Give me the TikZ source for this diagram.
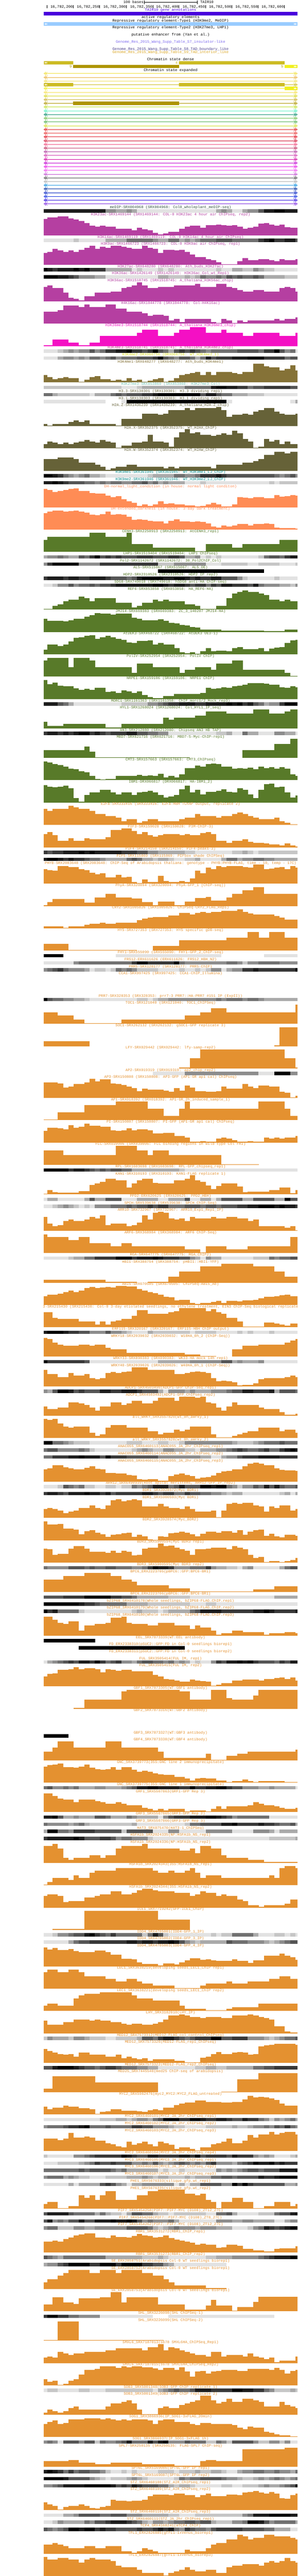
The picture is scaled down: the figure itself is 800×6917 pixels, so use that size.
\documentclass[tikz,border=0pt]{standalone}
\usepackage{fontspec}
\setmainfont{Liberation Mono}
\definecolor{g0}{HTML}{000000}\definecolor{g1}{HTML}{1C1C1C}\definecolor{g2}{HTML}{383838}
\definecolor{g3}{HTML}{555555}\definecolor{g4}{HTML}{707070}\definecolor{g5}{HTML}{8D8D8D}
\definecolor{g6}{HTML}{AAAAAA}\definecolor{g7}{HTML}{C6C6C6}\definecolor{g8}{HTML}{E2E2E2}
\definecolor{cmed}{HTML}{2F4F3F}\definecolor{hac}{HTML}{B53FA1}\definecolor{k36}{HTML}{F410C4}
\definecolor{k4a}{HTML}{C8388F}\definecolor{k4b}{HTML}{DDE020}\definecolor{k4c}{HTML}{857237}
\definecolor{k27}{HTML}{70C0B0}\definecolor{var}{HTML}{666238}\definecolor{k9}{HTML}{008B8B}
\definecolor{dhs}{HTML}{FF8C55}\definecolor{grn}{HTML}{587A29}\definecolor{org}{HTML}{E49130}
\definecolor{gene}{HTML}{4800DC}\definecolor{rep}{HTML}{99CCFF}\definecolor{st4}{HTML}{CCBB22}
\definecolor{st9}{HTML}{AE9500}\definecolor{st5}{HTML}{F0F020}
\definecolor{s7}{HTML}{7B68EE}\definecolor{s8}{HTML}{483D8B}\definecolor{s9}{HTML}{DAA520}
\tikzset{lab/.style={font=\fontsize{10}{10}\selectfont,inner sep=0pt,anchor=base}}
\newcount\curL
\def\cur{black}
\def\vs{.3333}
\newcommand\topt[3]{\node[lab,text=#3] at (458.5,#1+3.2) {#2};}
\newcommand\trkH[3]{%
 \node[lab,text=\cur] at (458.5,\the\curL+3.2) {#1};
 \gdef\prevx{231}%
 \foreach \tp/\xe in {#3}{%
  \pgfmathsetmacro\hh{round((#2-\tp)*\vs)}%
  \pgfmathsetmacro\xa{round(\prevx*0.5102)}%
  \pgfmathsetmacro\xb{round(\xe*0.5102)}%
  \ifdim\hh pt>0pt \fill[\cur] (\xa,\the\curL+56-\hh) rectangle (\xb+.3,\the\curL+56);\fi
  \xdef\prevx{\xe}%
 }%
 \global\advance\curL by 60\relax
}
\newcommand\trkE[1]{%
 \node[lab,text=\cur] at (458.5,\the\curL+3.2) {#1};
 \global\advance\curL by 60\relax
}
\newcommand\trkD[2]{%
 \node[lab,text=\cur] at (458.5,\the\curL+3.2) {#1};
 \gdef\prevx{231}%
 \foreach \gv/\xe in {#2}{%
  \pgfmathsetmacro\xa{round(\prevx*0.5102)}%
  \pgfmathsetmacro\xb{round(\xe*0.5102)}%
  \ifnum\gv<9 \fill[g\gv] (\xa,\the\curL+5) rectangle (\xb+.3,\the\curL+14);\fi
  \xdef\prevx{\xe}%
 }%
 \global\advance\curL by 19\relax
}
\newcommand\whL[1]{\fill[white] (120,#1) -- (123,#1-2.5) -- (123,#1+2.5) -- cycle (123.5,#1) -- (126.5,#1-2.5) -- (126.5,#1+2.5) -- cycle;}
\newcommand\whR[1]{\fill[white] (797,#1) -- (794,#1-2.5) -- (794,#1+2.5) -- cycle (793.5,#1) -- (790.5,#1-2.5) -- (790.5,#1+2.5) -- cycle;}
\catcode`\_=12
\begin{document}
\begin{tikzpicture}[x=1pt,y=-1pt]
\useasboundingbox (0,0) rectangle (800,6917);
\fill[white] (0,0) rectangle (800,6917);
% header
\node[lab,anchor=base east] at (386,9.6) {100 bases};
\node[lab,anchor=base west] at (538,9.6) {TAIR10};
\draw[black,line width=.8pt] (388,2)--(388,11) (388,6.5)--(530,6.5) (530,2)--(530,11);
\draw[black,line width=.8pt] (126,14)--(126,22);
\foreach \px/\lb in {197/200,268/250,339/300,411/350,481/400,552/450,623/500,694/550,764/600}{
 \draw[black,line width=.8pt] (\px,14)--(\px,22);
 \node[lab,anchor=base east] at (\px-1,21.2) {16,782,\lb};
}
\topt{27}{TAIR10 gene annotations}{gene}
\fill[gene] (118,32) rectangle (799,41);
\topt{46}{active regulatory elements}{black}
\topt{55}{Repressive regulatory element-Type1 (H3K9me2, MeDIP)}{black}
\fill[rep] (118,60) rectangle (799,69);
\whL{64.5}\whR{64.5}
\topt{74}{Repressive regulatory element-Type2 (H3K27me3, LHP1)}{black}
\topt{93}{putative enhancer from (Yan et al.)}{black}
\topt{112}{Genome_Res_2015_Wang_Supp_Table_S7_insulator-like}{s7}
\topt{131}{Genome_Res_2015_Wang_Supp_Table_S8_TAD_boundary_like}{s8}
\topt{140}{Genome_Res_2015_Wang_Supp_Table_S9_TAD_interior_like}{s9}
\topt{159}{Chromatin state dense}{black}
\fill[st4] (118,164) rectangle (197,173) (481,164) rectangle (765,173);
\whL{168.5}
\fill[st9] (197,174) rectangle (481,183);
\fill[st5] (765,174) rectangle (799,183);
\whR{178.5}
\node[lab,text=st4] at (474.5,171.7) {4};
\node[lab,text=st9] at (190,181.7) {9};
\node[lab,text=st9] at (758.5,181.7) {5};
\topt{188}{Chromatin state expanded}{black}
\foreach \rr/\cc in {0/F0E040,1/E8B040,2/F0E060,3/CCBB22,4/F0F020,5/F5E050,6/D8D820,7/C8B030,8/AE9500,9/C0E030,10/50F0C0,11/109070,12/70C050,13/50B050,14/D0DD20,15/E02020,16/E84040,17/E01020,18/D01030,19/F05080,20/C03060,21/B040A0,22/D040B0,23/D000A0,24/C000D0,25/E820E8,26/F050F0,27/C050D0,28/505050,29/B0B0B0,30/1090E0,31/0030A0,32/0020C0,33/1030E0,34/3010E0,35/8030E0}{
 \definecolor{rowc}{HTML}{\cc}
 \pgfmathsetmacro\yy{197.5+10*\rr}
 \draw[rowc,line width=1pt] (118,\yy)--(799,\yy);
 \draw[rowc,line width=.7pt] (123,\yy-4.3)--(118.4,\yy)--(123,\yy+4.3)--cycle (127.6,\yy-4.3)--(123,\yy)--(127.6,\yy+4.3);
 \draw[rowc,line width=.7pt] (794,\yy-4.3)--(798.6,\yy)--(794,\yy+4.3)--cycle (789.4,\yy-4.3)--(794,\yy)--(789.4,\yy+4.3);
}
\fill[st4] (118,223) rectangle (197,232) (481,223) rectangle (765,232);
\whL{227.5}
\fill[st5] (765,233) rectangle (799,242);
\whR{237.5}
\fill[st9] (197,273) rectangle (481,282);
% tracks
\curL=557
\def\cur{cmed}
\trkD{meDIP-SRX004968 (SRX004968: Col0_wholeplant_meDIP-seq)}{1/555,5/610,6/666,5/694,6/721,8/1139,6/1166,5/1194,6/1223,8/1278,6/1305,5/1362,3/1390,1/1445,0/1499,1/1566}
\def\cur{hac}
\trkH{H3K23ac-SRX1469144 (SRX1469144: COL-0 H3K23ac 4 hour air ChIPseq, rep2)}{276}{144/249,132/304,123/361,138/388,150/416,159/444,177/472,198/500,204/527,198/555,204/610,222/694,234/721,216/749,228/778,234/806,255/833,270/860,261/888,249/945,222/972,204/1000,198/1054,216/1084,195/1139,189/1166,195/1194,198/1223,195/1250,204/1278,222/1305,216/1333,204/1362,183/1390,177/1417,189/1445,198/1472,189/1499,210/1529,216/1566}
\trkD{H3K14ac-SRX1469119 (SRX1469119: COL-0 H3K14ac 4 hour air ChIPseq)}{8/388,7/416,8/555,6/666,4/806,5/833,6/888,4/945,6/972,5/1000,6/1027,5/1054,4/1139,3/1223,4/1362,2/1390,1/1417,0/1445,2/1499,1/1556,3/1566}
\trkH{H3K9ac-SRX1466723 (SRX1466723: COL-0 H3K9ac air ChIPseq, rep1)}{513}{417/249,408/276,384/304,399/333,408/361,399/388,408/416,393/444,375/472,360/500,384/527,366/555,375/582,360/639,366/666,375/694,384/749,360/778,375/806,384/833,417/860,393/917,399/945,393/972,408/1000,432/1027,450/1084,468/1111,474/1139,492/1166,507/1250,486/1278,459/1305,474/1362,468/1417,474/1445,486/1472,468/1499,474/1556,468/1566}
\trkD{H3K27ac-SRX648280 (SRX648280: Ath_buds_H3K27ac)}{0/249,1/276,2/304,1/388,0/416,1/444,0/472,2/555,6/694,8/721,7/749,8/833,7/860,8/888,7/917,8/1139,7/1166,8/1223,6/1278,7/1333,5/1362,6/1390,7/1445,8/1566}
\trkD{H3K36ac-SRX1426149 (SRX1426149: H3K36ac_Col_wt_Rep1)}{0/304,1/361,2/388,3/416,5/500,6/555,8/833,6/888,7/972,6/1000,7/1027,6/1054,4/1084,5/1139,4/1166,5/1194,3/1223,4/1250,3/1278,4/1333,3/1362,4/1390,6/1499,7/1566}
\trkH{H3K56ac-SRX1518745 (SRX1518745: A_thaliana_H3K56ac_chip)}{807}{693/249,678/276,702/333,738/361,777/388,789/416,801/444,765/500,738/582,729/639,702/666,693/694,678/721,654/749,678/778,702/833,693/917,678/1027,666/1054,693/1139,666/1194,693/1223,702/1250,717/1278,729/1333,717/1390,729/1472,702/1499,693/1529,702/1556,729/1566}
\trkH{H4K16ac-SRX1044778 (SRX1044778: Col-H4K16ac)}{987}{891/304,879/333,843/416,855/444,834/472,855/555,834/610,867/666,891/749,903/778,924/806,915/860,924/888,960/917,948/945,972/972,948/1111,972/1139,981/1166,948/1194,960/1223,981/1250,960/1278,972/1305,960/1445,948/1472,960/1499,948/1556,936/1566}
\def\cur{k36}
\trkH{H3K36me3-SRX1518744 (SRX1518744: A_thaliana_H3K36me3_chip)}{1167}{1161/276,1113/361,1140/416,1161/472,1140/527,1086/721,1062/749,1038/833,1086/917,1062/945,1038/1000,1014/1084,1062/1166,1038/1194,1062/1278,1086/1333,1062/1472,1086/1556,1062/1566}
\def\cur{k4a}
\trkD{H3K4me3-SRX1518741 (SRX1518741: A_thaliana_H3K4me3_chip)}{8/304,7/333,6/361,5/388,6/416,5/472,3/500,5/527,4/555,2/610,1/666,0/694,2/749,3/778,2/806,0/833,3/860,4/888,6/917,3/945,2/972,3/1000,2/1027,3/1054,4/1084,5/1111,4/1250,3/1362,4/1390,2/1445,0/1472,3/1499,5/1529,4/1556,8/1566}
\def\cur{k4b}
\trkD{H3K4me2-DRX066756 (DRX066756: WT_H3K4me2_1)}{8/304,6/333,5/388,6/416,5/444,6/472,4/527,5/555,4/582,3/610,5/639,4/721,3/806,2/833,0/860,3/888,4/917,5/945,3/1000,4/1027,6/1054,4/1084,1/1111,3/1139,2/1223,1/1305,0/1390,2/1499,4/1529,3/1566}
\def\cur{k4c}
\trkH{H3K4me1-SRX648277 (SRX648277: Ath_buds_H3K4me1)}{1461}{1401/249,1416/276,1434/304,1425/333,1416/361,1425/416,1455/444,1440/472,1416/500,1410/527,1434/582,1449/610,1440/639,1449/666,1425/694,1449/721,1440/749,1455/778,1449/806,1434/833,1425/860,1455/888,1449/917,1425/945,1401/972,1392/1000,1386/1027,1377/1054,1401/1084,1377/1111,1401/1139,1377/1223,1386/1250,1392/1278,1377/1333,1308/1390,1329/1417,1338/1472,1362/1499,1353/1529,1323/1556,1362/1566}
\def\cur{k27}
\trkD{H3K27me3-SRX853860 (SRX853860: H3K27me3_Col)}{7/639,8/721,7/749,6/972,4/1111,1/1139,0/1194,1/1250,2/1305,4/1333,3/1390,2/1529,3/1566}
\def\vs{.4209}
\def\cur{var}
\trkD{H3.3-SRX130301 (SRX130301: H3.3 dividing rep1)}{4/276,6/304,7/472,8/500,6/582,4/610,3/639,4/666,3/749,2/806,1/833,0/1054,3/1084,1/1139,3/1166,4/1223,6/1305,7/1390,8/1566}
\trkD{H3.1-SRX130303 (SRX130303: H3.1 dividing rep1)}{8/555,9/639,8/666,0/1194,8/1223,9/1529,8/1556,6/1566}
\trkH{H2A.Z-SRX1436239 (SRX1436239: A_thaliana_H2A.Z_chip)}{247}{233/249,242/276,233/361,221/388,211/416,221/444,211/472,233/610,242/639,200/749,169/833,176/860,169/888,145/972,133/1000,145/1027,133/1139,126/1166,145/1194,188/1223,176/1278,169/1305,176/1333,157/1362,145/1390,133/1445,157/1472,169/1499,176/1556,169/1566}
\trkH{H2A.X-SRX352375 (SRX352375: WT_H2AX_ChIP)}{390}{361/249,344/276,352/304,361/333,352/361,361/388,352/416,344/444,337/472,344/500,352/527,337/555,344/582,352/610,385/639,371/694,352/749,344/778,302/806,344/860,352/888,378/917,318/945,285/972,268/1000,295/1027,285/1054,302/1111,309/1139,302/1166,295/1194,302/1223,276/1250,295/1278,328/1305,344/1333,385/1362,378/1390,328/1417,344/1445,337/1472,361/1499,344/1529,361/1566}
\trkH{H2A.W-SRX352374 (SRX352374: WT_H2AW_ChIP)}{532}{459/304,447/388,459/416,480/500,494/527,506/555,527/582,518/610,506/666,494/721,506/860,518/888,506/917,518/945,506/1111,518/1139,494/1278,480/1333,471/1362,459/1390,432/1445,411/1499,421/1529,411/1566}
\def\cur{k9}
\trkD{H3K9me1-SRX361945 (SRX361945: WT_H3K9me1_LJ_ChIP)}{0/276,1/304,2/333,4/361,5/388,6/416,5/444,4/472,6/527,7/555,8/778,7/806,6/917,4/972,5/1027,4/1054,2/1139,1/1166,2/1194,3/1445,4/1472,5/1499,4/1529,3/1556,5/1566}
\trkD{H3K9me2-SRX361946 (SRX361946: WT_H3K9me2_LJ_ChIP)}{1/276,0/304,1/333,2/361,3/444,4/500,5/527,4/555,5/582,4/639,5/694,4/749,3/778,5/806,4/833,6/860,5/888,6/972,8/1054,7/1084,8/1417,7/1445,8/1472,7/1566}
\def\cur{dhs}
\trkH{DH-normal_light_condition (in house: normal light conditon)}{765}{649/249,654/276,668/304,663/333,656/361,649/388,644/416,660/444,663/472,675/500,677/555,691/582,701/610,694/639,715/666,727/694,736/721,755/749,748/778,755/806,748/833,727/860,743/888,741/917,748/972,753/1027,760/1054,755/1084,748/1111,736/1139,748/1166,760/1223,748/1250,701/1278,703/1305,708/1333,701/1390,708/1445,689/1472,696/1499,694/1529,689/1556,691/1566}
\trkH{DH-extended_darkness (in house: 3-day dark treatment)}{908}{803/249,794/276,786/333,794/361,791/388,786/416,794/444,798/472,813/500,817/527,808/555,794/582,813/610,808/639,813/666,824/694,846/721,841/749,846/778,851/806,855/860,867/888,851/917,841/945,855/1000,860/1027,855/1054,860/1084,867/1111,889/1139,893/1166,881/1194,889/1223,881/1250,872/1305,881/1333,872/1390,867/1417,872/1445,893/1472,898/1556,903/1566}
\def\cur{grn}
\trkH{CENH3-SRX2250913 (SRX2250913: AtCENH3_rep1)}{1050}{974/249,953/472,929/555,953/666,929/694,1000/806,1022/1027,1045/1084,1000/1223,1022/1278,1000/1472,974/1566}
\trkD{LHP1-SRX1519404 (SRX1519404: LHP1 ChIPseq)}{6/249,5/304,4/333,5/361,6/416,3/444,4/472,2/500,0/527,3/555,2/582,3/610,2/639,3/721,2/806,3/888,2/945,3/972,6/1027,5/1054,8/1084,7/1111,8/1139,7/1166,8/1362,7/1390,4/1417,3/1472,4/1499,2/1529,1/1566}
\trkD{Pol2-SRX1142672 (SRX1142672: 30_Pol2ChIP_Col)}{5/249,2/276,0/416,5/527,2/833,7/917,5/1084,8/1166,7/1305,8/1362,7/1472,8/1556,7/1566}
\trkD{AL5-SRX515067 (SRX515067: AL5_OE)}{9/833,0/1390,9/1566}
\trkD{HDP2-SRX2310526 (SRX2310526: HDP2 IP rep2)}{2/249,1/333,2/361,1/416,2/472,1/555,2/582,3/666,4/694,3/721,1/749,0/860,1/917,0/972,1/1000,2/1027,1/1054,2/1111,1/1166,3/1250,5/1278,7/1305,8/1445,7/1472,8/1566}
\trkD{SDG8-SRX749018 (SRX749018: hSDG8 anti-HA ChIP-seq)}{8/276,7/304,5/361,3/388,5/416,4/472,3/500,4/527,3/582,2/610,1/806,0/860,1/888,2/917,1/972,2/1000,3/1027,2/1084,4/1111,2/1139,3/1166,1/1223,2/1305,3/1333,1/1362,4/1390,5/1472,6/1529,7/1556,5/1566}
\trkH{REF6-SRX853858 (SRX853858: HA_REF6-HA)}{1418}{1414/276,1395/304,1385/333,1364/361,1354/416,1335/444,1345/472,1364/500,1345/610,1373/694,1404/721,1395/749,1373/806,1354/833,1364/860,1354/888,1364/972,1385/1027,1395/1054,1414/1139,1395/1194,1345/1223,1316/1250,1307/1278,1297/1305,1307/1362,1316/1390,1326/1417,1354/1472,1364/1499,1354/1529,1364/1566}
\trkH{JMJ14-SRX669383 (SRX669383: ZC_3_140207 JMJ14-HA)}{1561}{1475/249,1490/333,1494/361,1485/388,1475/444,1463/472,1454/500,1440/527,1444/582,1449/610,1444/694,1468/721,1475/749,1485/833,1480/860,1490/888,1501/917,1506/945,1516/972,1520/1000,1528/1027,1532/1054,1547/1166,1552/1390,1556/1499,1547/1566}
\trkH{AtDEK3-SRX468722 (SRX468722: AtDEK3 OE3-1)}{135}{107/249,74/304,83/333,71/361,52/388,31/416,26/444,17/472,14/500,38/527,26/555,17/582,26/610,38/639,43/666,59/694,62/721,50/778,45/806,74/833,62/860,74/888,71/917,95/945,121/972,128/1000,124/1027,131/1054,117/1084,95/1111,114/1139,112/1194,117/1223,95/1250,88/1278,102/1362,95/1390,114/1417,100/1445,93/1472,88/1499,62/1529,45/1556,43/1566}
\trkH{PolIV-SRX252954 (SRX252954: PolIV ChIP)}{278}{176/249,157/361,216/388,157/472,176/500,216/694,254/721,195/806,216/945,254/972,235/1027,216/1111,235/1139,195/1223,176/1278,235/1499,254/1529,273/1566}
\trkH{NRPE1-SRX159106 (SRX159106: NRPE1 ChIP)}{421}{299/249,325/276,316/304,335/333,337/388,352/416,363/444,354/472,361/500,349/555,375/582,371/610,380/639,366/666,371/694,382/721,373/749,394/778,408/806,413/833,416/860,402/917,390/945,387/972,390/1027,387/1054,380/1084,349/1111,354/1139,352/1166,344/1194,349/1223,340/1250,335/1278,330/1305,321/1362,318/1390,323/1417,330/1472,344/1499,349/1529,340/1556,344/1566}
\trkD{MORC1-SRX1161363 (SRX1161358: ChIP_morc1/2_Mock_rep3)}{1/304,3/333,4/361,6/388,8/639,7/778,5/833,4/860,3/888,2/945,1/1027,2/1084,1/1194,0/1223,1/1250,0/1278,2/1305,1/1333,3/1362,4/1390,6/1417,5/1472,2/1499,0/1566}
\trkH{HYL1-SRX1268024 (SRX1268024: Col_HYL1_IP_seq)}{608}{566/249,592/333,577/555,603/639,577/860,539/888,551/917,539/1027,526/1084,499/1194,513/1333,487/1417,513/1499,499/1529,487/1566}
\trkD{AN3-SRX212080 (SRX212080: Chipseq AN3 HB TAP)}{2/249,1/304,2/333,1/361,2/388,1/416,0/472,2/500,1/527,2/555,3/582,2/666,1/721,3/778,4/833,5/888,8/1139,7/1194,6/1223,8/1278,4/1305,6/1362,8/1445,5/1499,6/1556,8/1566}
\trkH{MBD7-SRX621716 (SRX621716: MBD7-5-Myc-ChIP-rep1)}{796}{746/444,722/472,755/500,791/1000,796/1278,746/1445,708/1529,675/1566}
\trkH{CMT3-SRX157663 (SRX157663: CMT3_ChIPseq)}{938}{817/249,827/276,834/304,843/333,851/361,865/388,870/416,881/444,889/472,912/500,929/527,934/555,931/582,929/610,912/639,910/694,912/721,905/749,912/778,908/806,910/833,898/860,919/888,910/917,919/945,900/972,862/1027,846/1054,851/1084,836/1111,832/1139,834/1166,851/1194,853/1223,865/1250,862/1278,865/1305,858/1333,867/1362,851/1390,862/1417,855/1445,865/1472,855/1499,865/1529,900/1556,910/1566}
\trkH{IBM1-DRX066817 (DRX066817: HA-IBM1_2)}{1081}{969/249,979/276,984/304,979/333,972/361,991/388,1052/416,1076/444,1031/472,1014/527,1000/582,1014/610,1029/639,1017/694,1031/721,1017/749,1012/778,1005/806,1014/833,1031/860,1050/888,1043/917,1031/945,998/972,972/1000,1017/1027,1000/1054,1029/1084,1012/1139,1005/1166,998/1194,1012/1223,1014/1250,991/1278,1000/1305,1029/1333,1052/1362,1000/1390,965/1417,960/1445,984/1472,979/1499,1014/1529,1050/1556,1036/1566}
\def\cur{org}
\trkH{E2Fa-SRX333416 (SRX333416: E2Fa-HBH TChAP output, replicate 2)}{1224}{1121/249,1133/276,1121/361,1102/388,1112/416,1121/472,1133/500,1155/555,1166/610,1176/639,1200/666,1188/721,1209/749,1200/778,1188/833,1200/945,1188/972,1176/1027,1155/1054,1166/1139,1176/1166,1166/1223,1155/1250,1145/1278,1155/1305,1166/1333,1176/1362,1188/1445,1176/1472,1200/1499,1209/1529,1219/1566}
\trkH{PIF3-SRX159028 (SRX159028: P3M-ChIP-3)}{1366}{1283/249,1269/276,1290/304,1323/361,1309/388,1323/444,1309/472,1316/555,1302/582,1257/639,1245/694,1264/721,1283/749,1269/778,1290/806,1297/833,1290/860,1283/945,1290/972,1283/1000,1290/1054,1276/1084,1269/1111,1283/1139,1323/1194,1338/1223,1323/1278,1316/1305,1330/1333,1338/1390,1342/1417,1349/1472,1354/1499,1342/1529,1354/1556,1361/1566}
\trkD{PIF4-SRX214150 (SRX214150: PIF4-peaks-3)}{2/249,3/276,2/333,1/416,0/444,1/472,0/500,1/639,2/721,3/778,5/833,6/972,7/1027,8/1223,7/1278,6/1305,7/1333,8/1362,7/1566}
\trkD{PIF5-SRX115869 (SRX115869: PIF5ox shade ChIPSeq)}{1/249,0/304,1/333,2/361,1/388,2/444,3/472,4/527,5/555,6/666,4/694,3/721,4/749,6/806,7/833,6/888,7/917,8/972,7/1027,6/1054,8/1166,6/1194,4/1250,6/1278,5/1333,4/1390,5/1445,6/1566}
\trkH{PHYB-SRX2083648 (SRX2083648: ChIP-Seq of Arabidopsis thaliana: genotype - PHYB:PHYB-FLAG, time - 10, temp - 17C)}{1598}{1505/249,1513/276,1516/304,1487/361,1492/416,1506/444,1513/472,1528/500,1539/527,1532/555,1558/610,1542/639,1558/666,1554/694,1589/721,1594/749,1573/778,1585/833,1549/860,1580/888,1585/917,1589/945,1580/972,1585/1000,1565/1027,1516/1054,1532/1084,1497/1111,1506/1139,1487/1166,1492/1194,1487/1278,1492/1305,1497/1333,1478/1390,1506/1417,1504/1445,1497/1472,1492/1499,1506/1529,1487/1556,1497/1566}
\trkH{PhyA-SRX320094 (SRX320094: PhyA-GFP_1 [ChIP-seq])}{173}{169/249,147/276,128/444,150/500,119/555,95/610,119/694,126/749,147/806,169/833,145/917,166/972,145/1027,121/1084,116/1111,138/1194,119/1223,95/1278,74/1333,52/1390,95/1566}
\trkH{CRY2-SRX1005826 (SRX1005826: ChIPSeq-CRY2_FLAG_Rep1)}{316}{302/333,311/361,302/444,292/472,287/527,280/555,285/610,280/721,264/749,254/778,247/806,242/888,233/945,219/1000,228/1027,219/1054,211/1084,219/1111,211/1166,204/1250,195/1278,211/1305,221/1333,228/1362,226/1445,235/1472,247/1499,259/1566}
\trkH{HY5-SRX727353 (SRX727353: HY5 specific gDB-seq)}{459}{416/361,454/721,459/806,428/945,390/1194,375/1305,337/1362,375/1417,337/1499,375/1566}
\trkD{FHY1-SRX555090 (SRX555090: FHY1-GFP_2_ChIP-seq)}{0/333,9/610,8/1166,9/1390,8/1566}
\trkD{FRS12-ERX611626 (ERX611626: FRS12_HBH_N2)}{8/388,5/416,4/694,2/721,0/778,2/917,0/945,4/972,5/1194,4/1250,5/1278,7/1305,5/1362,4/1472,5/1566}
\trkD{PRR5-SRX128177 (SRX128177: PRR5-ChIP)}{5/249,4/276,3/304,2/333,4/361,5/444,6/472,8/500,7/555,8/582,7/610,4/639,5/666,4/694,5/721,7/833,8/945,7/972,8/1027,7/1054,8/1084,7/1111,5/1166,8/1194,6/1223,5/1278,2/1333,1/1362,2/1556,0/1566}
\trkE{CCA1-SRX997425 (SRX997425: CCA1-ChIP_Illumina)}
\trkD{PRR7-SRX328353 (SRX328353: prr7-3 PRR7::HA-PRR7 \#151 IP (ExpII))}{0/249,3/276,4/333,5/388,6/444,7/472,8/721,7/778,8/806,7/833,6/888,5/1139,4/1166,5/1194,4/1278,5/1305,4/1362,5/1390,6/1566}
\trkH{TOC1-SRX121040 (SRX121040: TOC1_ChIPSeq)}{924}{851/304,872/388,898/444,919/639,898/972,872/1054,851/1111,824/1194,851/1556,803/1566}
\trkH{SOC1-SRX262132 (SRX262132: gSOC1-GFP replicate 3)}{1067}{1036/472,1067/1445,1062/1472,946/1566}
\trkH{LFY-SRX029442 (SRX029442: lfy-samp-rep2)}{1209}{1209/945,1205/1000,1145/1054,1088/1499,1145/1556,1205/1566}
\trkD{AP2-SRX019319 (SRX019319: ap2_chip_rep2)}{9/806,8/972,5/1362,8/1445,0/1529,5/1566}
\trkH{AP3-SRX150808 (SRX150808: AP3-GFP (AP1-GR ap1 cal) ChIPseq)}{1397}{1300/304,1304/333,1330/361,1323/388,1309/444,1300/472,1276/500,1292/527,1278/582,1304/610,1309/639,1314/666,1323/694,1335/721,1354/749,1338/778,1345/860,1349/888,1359/917,1335/945,1349/972,1319/1000,1330/1027,1354/1084,1359/1139,1354/1166,1323/1194,1338/1278,1309/1305,1323/1333,1335/1362,1319/1417,1323/1472,1359/1499,1364/1529,1392/1556,1383/1566}
\trkH{AP1-SRX018392 (SRX018392: AP1-GR_2h_induced_sample_1)}{1539}{1535/304,1490/444,1442/610,1418/778,1466/860,1513/945,1466/972,1418/1000,1466/1362,1418/1499,1466/1529,1513/1566}
\trkH{PI-SRX150807 (SRX150807: PI-GFP (AP1-GR ap1 cal) ChIPseq)}{114}{40/249,19/304,24/333,29/361,2/388,19/416,14/444,-7/472,7/527,14/582,36/610,40/639,36/666,24/694,36/721,29/778,36/806,57/860,52/917,74/972,83/1000,109/1054,105/1084,109/1139,88/1166,83/1194,88/1223,100/1250,109/1305,105/1333,109/1390,83/1417,88/1445,83/1472,88/1499,83/1556,74/1566}
\trkH{FLC-SRX039006 (SRX039006: FLC binding regions in wild type Col FRI)}{257}{164/333,192/610,135/721,164/778,192/806,164/888,192/1166,252/1362,257/1566}
\trkD{RPL-SRX1603698 (SRX1603698: RPL-GFP_chipseq_rep1)}{0/361,2/388,1/444,2/472,3/500,4/527,3/555,4/582,3/639,4/694,6/945,7/972,8/1566}
\trkH{KAN1-SRX310193 (SRX310193: KAN1-FLAG replicate 1)}{444}{440/249,418/276,430/304,433/416,423/472,385/500,375/527,366/555,344/610,356/666,402/694,375/721,354/749,344/806,371/833,375/917,354/972,344/1000,323/1027,354/1054,363/1084,387/1111,411/1139,392/1166,375/1250,394/1278,430/1305,428/1417,416/1472,402/1529,438/1556,418/1566}
\trkD{PPD2-ERX620625 (ERX620625: PPD2_HBH)}{8/249,6/304,8/444,6/472,3/500,6/555,3/639,8/721,6/833,8/888,6/972,3/1000,8/1054,6/1111,8/1139,6/1166,3/1278,6/1333,3/1445,6/1499,0/1529,3/1566}
\trkD{SPCH-SRX539638 (SRX539638: SPCH ChIP-Seq)}{8/276,7/304,6/333,5/361,6/388,7/416,8/444,7/472,8/500,5/582,4/666,3/694,4/721,3/778,2/806,3/833,2/888,4/972,3/1054,4/1084,3/1139,4/1166,3/1250,2/1305,1/1362,0/1445,1/1472,0/1499,1/1556,2/1566}
\trkH{ARR10-SRX732967 (SRX732967: ARR10_Exp1_Rep1_IP)}{677}{589/249,632/276,649/304,639/333,615/361,606/388,615/444,606/472,589/500,599/527,580/555,639/582,632/666,649/694,639/721,625/749,580/778,606/806,563/833,556/860,563/888,599/917,606/945,599/972,615/1000,589/1027,599/1111,589/1139,599/1194,589/1250,599/1305,615/1333,606/1362,649/1499,656/1529,649/1556,672/1566}
\trkH{ARF6-SRX368984 (SRX368984: ARF6 ChIP-Seq)}{820}{698/249,717/361,736/416,717/472,755/582,777/639,755/694,777/972,796/1054,815/1084,777/1194,796/1305,777/1529,717/1566}
\trkD{RGA-SRX647775 (SRX647775: RGA_ChIP2)}{8/361,7/388,6/444,4/500,2/610,0/694,2/721,1/806,0/833,1/860,2/945,3/1000,5/1027,6/1054,8/1084,5/1111,6/1166,8/1333,7/1417,4/1445,5/1472,4/1529,3/1566}
\trkH{HBI1-SRX388754 (SRX388754: pHBI1::HBI1-YFP)}{1007}{987/555,1003/721,1007/778,1003/888,969/945,936/1054,903/1166,886/1333,903/1445,936/1499,969/1566}
\trkH{ABI5-SRX670505 (SRX670505: ChIPSeq-ABI5_Ab)}{1150}{1093/249,1086/304,1076/333,1069/361,1057/388,1067/416,1057/444,1043/472,1036/500,1043/527,1038/555,1036/582,1038/610,1029/666,1031/721,1048/749,1057/778,1067/806,1074/833,1086/860,1098/888,1100/917,1119/945,1117/1000,1136/1027,1145/1054,1138/1111,1131/1139,1124/1166,1138/1194,1124/1250,1126/1278,1119/1333,1117/1362,1107/1390,1098/1445,1093/1472,1088/1499,1086/1529,1093/1566}
\trkH{3-SRX215430 (SRX215430: Col-0 3-day etiolated seedlings, no ethylene treatment, EIN3 ChIP-Seq biological replicate}{1292}{1197/276,1233/304,1240/416,1254/500,1276/527,1254/555,1276/582,1254/610,1247/639,1240/694,1219/721,1183/778,1205/888,1197/917,1190/945,1171/1084,1190/1111,1176/1139,1197/1166,1205/1194,1233/1250,1254/1278,1288/1390,1262/1445,1269/1472,1276/1499,1283/1529,1269/1566}
\trkD{ERF115-SRX320167 (SRX320167: ERF115-HBH ChIP output)}{1/249,0/333,1/361,2/416,3/472,5/555,3/582,5/639,6/666,7/694,8/778,6/806,7/1000,8/1027,7/1139,8/1250,7/1278,8/1305,7/1333,8/1417,7/1445,8/1566}
\trkH{WRKY18-SRX2039032 (SRX2039032: W18HA_0h_2 (ChIP-Seq))}{1480}{1359/249,1368/276,1390/304,1402/333,1411/416,1402/472,1411/500,1402/555,1423/582,1433/666,1456/972,1466/1054,1476/1139,1480/1223,1433/1278,1411/1362,1402/1499,1390/1529,1378/1556,1368/1566}
\trkD{WRKY33-SRX890383 (SRX890383: WK33-HA mock 14h rep1)}{0/249,2/444,3/472,8/833,6/1000,5/1166,3/1223,6/1250,5/1278,6/1362,5/1390,8/1566}
\trkH{WRKY40-SRX2039026 (SRX2039026: W40HA_0h_1 (ChIP-Seq))}{100}{-2/249,24/304,43/361,17/388,31/444,24/472,50/500,57/527,50/555,17/582,10/610,17/639,10/666,5/694,-20/778,-2/917,24/972,17/1000,10/1027,5/1054,10/1084,17/1111,50/1139,69/1166,64/1194,69/1223,76/1250,95/1278,91/1333,83/1362,57/1390,50/1499,43/1529,31/1556,43/1566}
\trkD{ADCP1-SRX4503490(ADCP1-GFP ChIP-seq_rep1)}{5/249,6/276,3/304,0/361,1/388,3/416,2/444,3/527,1/582,2/639,1/721,2/749,3/833,6/860,8/888,5/972,6/1000,5/1027,6/1111,5/1194,4/1223,3/1278,1/1333,2/1417,1/1445,6/1472,3/1556,4/1566}
\trkH{ADCP1_SRX4503492(ADCP1-GFP_ChIPseq_rep2)}{287}{228/249,247/304,238/361,202/416,211/444,221/472,238/500,257/527,228/582,202/639,221/666,211/694,192/749,211/806,192/833,173/917,192/945,166/1027,173/1054,166/1084,202/1111,211/1139,238/1166,257/1194,228/1223,202/1250,221/1362,238/1390,247/1472,266/1499,283/1556,276/1566}
\trkH{all_WRKY_SRX3557820(wt_0h_aWrky_1)}{430}{309/249,316/276,309/304,337/333,356/361,366/388,356/472,397/500,416/527,406/555,366/582,347/666,366/778,387/833,406/860,397/917,378/945,387/972,378/1000,356/1111,406/1139,426/1223,416/1250,406/1278,397/1305,387/1362,366/1472,387/1499,378/1556,397/1566}
\trkD{all_WRKY_SRX3557828(wt_0h_aWrky_2)}{0/276,4/333,5/361,6/388,7/472,8/666,7/749,8/833,7/888,8/945,7/972,5/1223,6/1250,7/1333,6/1362,5/1390,4/1472,3/1499,4/1566}
\trkD{ANAC055_SRX6460113(ANAC055_JA_2hr_ChIPseq_rep1)}{4/249,3/304,5/416,4/444,5/472,7/500,8/694,7/721,6/749,5/778,6/806,7/860,5/917,6/972,7/1027,8/1054,6/1139,5/1194,4/1223,3/1250,2/1278,3/1305,4/1362,3/1390,2/1417,4/1472,2/1499,1/1529,0/1556,1/1566}
\trkD{ANAC055_SRX6460114(ANAC055_JA_2hr_ChIPseq_rep2)}{4/276,2/361,1/416,0/444,1/527,3/555,0/582,2/666,3/833,5/1054,6/1111,8/1166,6/1194,5/1250,3/1278,2/1362,1/1472,2/1566}
\trkH{ANAC055_SRX6460115(ANAC055_JA_2hr_ChIPseq_rep3)}{708}{630/249,625/276,606/333,618/361,625/388,630/444,620/472,611/500,627/527,630/555,653/610,656/666,665/694,670/721,694/749,696/778,694/833,703/888,672/917,663/945,658/972,665/1000,672/1027,689/1054,684/1084,680/1111,670/1139,653/1166,644/1194,641/1223,630/1278,611/1305,594/1333,587/1362,594/1390,606/1417,603/1445,625/1472,634/1499,637/1556,641/1566}
\trkD{ARR12_SRX6490939(Root apical meristems, ARR12-GFP_IP_rep2)}{8/304,7/333,3/361,4/388,5/416,4/444,7/500,8/555,7/610,8/639,7/694,4/721,5/749,4/778,3/806,1/888,4/917,3/945,1/972,3/1054,0/1111,1/1139,0/1194,4/1223,5/1250,7/1278,5/1333,3/1362,4/1390,1/1417,3/1445,1/1472,3/1499,4/1556,3/1566}
\trkD{BDR1_SRX3928572(Myc_BDR1)}{2/249,1/304,2/333,3/361,1/444,0/472,1/527,2/555,1/582,3/610,2/749,1/806,2/833,3/860,2/917,4/972,2/1000,3/1054,4/1111,5/1166,6/1194,7/1223,6/1278,8/1472,7/1499,6/1529,8/1556,6/1566}
\trkH{BDR1_SRX5900593(Myc BDR1)}{941}{884/249,877/276,884/304,893/333,910/361,900/388,893/416,877/472,860/500,877/527,884/555,860/582,827/610,820/639,834/666,827/694,820/721,827/749,867/833,851/860,867/888,877/945,884/972,867/1000,884/1027,900/1111,893/1139,936/1166,893/1194,851/1223,843/1250,851/1278,843/1333,860/1362,867/1390,900/1417,867/1445,877/1472,860/1529,893/1556,884/1566}
\trkH{BDR2_SRX3928574(Myc_BDR2)}{1083}{962/249,984/276,981/304,979/333,1007/388,1014/416,1045/444,1026/472,1019/500,1036/527,1045/555,1062/582,1048/610,1045/639,1038/666,1036/694,1062/721,1048/749,1057/778,1076/806,1080/833,1057/860,1060/888,1038/917,1033/945,1029/972,1033/1000,1045/1027,1057/1054,1041/1084,1029/1139,1033/1166,1024/1194,1026/1223,1036/1250,1019/1278,1048/1305,1029/1333,1017/1362,1014/1390,1055/1417,1041/1445,1057/1472,1064/1499,1048/1556,1055/1566}
\trkH{BDR3_SRX5900594(Myc BDR3 rep1)}{1226}{1136/249,1140/276,1176/304,1169/361,1136/388,1121/444,1136/472,1157/555,1162/582,1150/610,1162/639,1150/666,1157/694,1181/721,1176/749,1136/778,1128/833,1105/860,1121/888,1117/917,1128/945,1140/972,1150/1000,1176/1027,1140/1084,1136/1111,1128/1194,1140/1223,1121/1250,1128/1278,1140/1305,1176/1333,1197/1362,1190/1390,1221/1417,1214/1472,1221/1499,1214/1529,1209/1556,1197/1566}
\trkD{BDR3_SRX5900595(Myc BDR3 rep2)}{4/249,5/361,3/444,4/472,3/500,4/555,3/610,4/694,5/749,4/778,2/806,0/833,1/888,2/917,5/1000,4/1084,2/1111,5/1139,6/1194,7/1250,8/1278,6/1305,5/1333,8/1472,6/1499,4/1529,3/1566}
\trkH{BPC6_ERX2223705(pBPC6::GFP:BPC6-BR1)}{1414}{1333/333,1311/444,1292/582,1311/639,1333/694,1347/721,1368/888,1390/1000,1410/1333,1397/1445,1376/1566}
\trkD{BPC6_ERX2223706(pBPC6::GFP:BPC6-BR1)}{3/333,2/444,0/582,2/639,3/694,4/721,6/888,7/1000,8/1445,6/1566}
\trkD{bZIP68_SRX6410178(Whole seedlings, bZIP68-FLAG.ChIP.rep1)}{0/416,1/444,2/500,3/527,4/666,6/778,7/1000,8/1084,7/1139,8/1566}
\trkD{bZIP68_SRX6410179(Whole seedlings, bZIP68-FLAG.ChIP.rep2)}{0/249,2/276,1/304,4/416,7/444,8/694,7/721,6/749,7/833,8/860,7/888,6/1000,4/1027,3/1054,1/1166,2/1333,1/1390,0/1417,1/1445,2/1556,1/1566}
\trkH{bZIP68_SRX6410180(Whole seedlings, bZIP68-FLAG.ChIP.rep3)}{124}{2/276,21/304,40/333,50/361,31/416,90/444,59/500,50/555,40/582,10/639,2/666,40/694,50/778,59/833,40/917,59/1000,81/1027,59/1054,71/1111,90/1139,119/1166,109/1223,90/1278,100/1390,119/1417,109/1499,100/1556,109/1566}
\trkD{EEL_SRX7873339(WT:EEL antibody)}{0/500,9/1566}
\trkD{FD_ERX2338310(pSUC2::GFP:FD in Col-0 seedlings biorep1)}{9/416,0/972,9/1566}
\trkD{FD_ERX2338311(pSUC2::GFP:FD in Col-0 seedlings biorep2)}{9/1566}
\trkD{FUL_SRX3505414(FUL IM, rep1)}{8/249,6/276,5/304,4/333,3/361,2/388,3/416,1/472,2/500,0/527,2/555,4/582,3/610,2/639,5/694,6/721,4/749,3/806,4/860,5/888,4/917,6/945,5/972,6/1000,8/1027,7/1054,8/1111,5/1139,2/1166,3/1194,1/1250,0/1278,1/1305,0/1333,2/1362,3/1445,4/1472,2/1499,3/1529,1/1566}
\trkH{FUL_SRX3505415(FUL IM, rep2)}{447}{385/249,368/276,363/304,342/361,337/388,325/416,337/444,333/500,337/527,356/555,337/582,342/610,347/639,342/694,352/806,373/833,382/860,399/888,404/917,409/945,418/1000,404/1027,409/1054,413/1084,418/1111,442/1139,437/1166,428/1223,409/1278,404/1362,409/1390,399/1445,394/1472,390/1499,399/1529,390/1556,409/1566}
\trkH{GBF1_SRX7873305(WT:GBF1 antibody)}{589}{589/388,584/444,532/639,480/666,468/945,480/1000,532/1111,468/1194,520/1223,532/1333,506/1362,468/1566}
\trkE{GBF2_SRX7873316(WT:GBF2 antibody)}
\trkD{GBF3_SRX7873327(WT:GBF3 antibody)}{0/361,9/1566}
\trkH{GBF4_SRX7873338(WT:GBF4 antibody)}{919}{862/276,836/304,798/388,836/555,798/639,836/833,862/860,903/1084,877/1111,915/1194,889/1250,877/1305,862/1556,851/1566}
\trkH{GNC_SRX3739773(35S:GNC line 2 immunoprecipitate)}{1062}{957/249,950/276,946/304,941/333,962/388,967/416,957/444,946/472,967/500,974/527,979/555,974/582,962/610,979/639,962/694,979/721,991/749,986/778,991/806,1000/833,1007/860,1012/917,1024/972,1036/1000,1048/1027,1036/1054,1031/1084,1036/1139,1048/1194,1057/1223,1052/1278,1041/1305,1052/1333,1057/1362,1052/1499,1057/1566}
\trkD{GNC_SRX3739775(35S:GNC line 1 immunoprecipitate)}{4/249,3/276,5/333,4/361,5/388,4/416,6/500,5/555,6/639,5/666,4/694,3/721,1/778,0/833,1/945,2/1000,0/1027,2/1084,1/1139,0/1194,2/1223,3/1278,5/1362,6/1417,5/1445,6/1556,8/1566}
\trkH{GRF1_SRX5507863(GRF1-GFP Rep 3)}{1250}{1128/276,1145/304,1162/333,1169/388,1186/416,1169/500,1178/527,1186/555,1195/610,1186/639,1195/666,1205/749,1221/778,1228/806,1238/833,1228/860,1238/888,1228/972,1245/1000,1238/1084,1245/1111,1228/1139,1212/1166,1228/1194,1212/1305,1205/1333,1186/1362,1195/1390,1205/1445,1212/1472,1221/1499,1228/1556,1221/1566}
\trkD{GRF3_SRX5507865(GRF3-GFP Rep 2)}{1/276,0/304,3/333,6/388,5/416,6/500,3/555,4/582,6/666,4/694,5/721,6/833,8/860,5/888,3/917,2/1000,1/1084,0/1139,1/1166,2/1194,3/1223,5/1250,4/1417,8/1566}
\trkD{GRF3_SRX5507866(GRF3-GFP Rep 3)}{4/249,5/361,6/388,5/416,4/444,6/472,7/694,6/721,8/972,7/1000,4/1054,3/1166,1/1223,0/1250,2/1362,1/1390,2/1445,3/1472,4/1529,3/1556,6/1566}
\trkD{HAT3_SRX875470(HAT3-1_ChIPSeq)}{6/249,0/304,4/361,5/388,2/500,3/639,7/666,3/806,8/888,5/945,8/1084,5/1223,8/1333,5/1417,6/1445,8/1472,6/1566}
\trkD{HSFA1b_SRX2024335(NP:HSFA1b_NS_rep1)}{2/249,1/388,0/416,1/444,3/527,2/582,3/610,5/639,4/694,5/778,7/806,8/1417,7/1556,6/1566}
\trkH{HSFA1b_SRX2024336(NP:HSFA1b_NS_rep2)}{1573}{1466/276,1452/304,1480/333,1539/361,1554/388,1539/472,1525/527,1539/555,1525/610,1480/639,1466/749,1452/778,1480/945,1494/1000,1480/1027,1511/1054,1466/1111,1480/1166,1525/1194,1539/1305,1554/1390,1568/1566}
\trkH{HSFA1b_SRX2024343(35S:HSFA1b_NS_rep1)}{147}{143/249,128/276,100/361,114/388,86/416,100/472,69/500,55/610,38/806,55/833,69/888,55/917,69/972,55/1000,38/1027,69/1054,100/1084,86/1166,100/1417,86/1445,100/1472,38/1499,26/1556,38/1566}
\trkH{HSFA1b_SRX2024344(35S:HSFA1b_NS_rep2)}{290}{216/249,207/304,216/333,257/361,247/444,226/500,216/527,207/582,188/639,207/694,197/721,178/749,169/806,178/833,188/917,197/1000,216/1027,207/1054,188/1084,197/1139,216/1166,207/1194,216/1250,238/1278,247/1305,276/1362,285/1390,276/1499,266/1529,238/1566}
\trkH{ICE1_SRX7719242(GFP-ICE1_ChIP)}{432}{432/276,428/444,311/833,368/1000,432/1566}
\trkD{IDD4_SRX4705001(IDD4-GFP_1_IP)}{8/276,7/304,5/361,4/388,3/444,1/472,0/500,2/527,3/555,4/582,2/610,4/749,7/778,4/806,1/833,3/860,7/888,8/1111,7/1139,8/1166,7/1223,4/1333,6/1362,8/1445,7/1499,8/1529,7/1556,8/1566}
\trkD{IDD4_SRX4705002(IDD4-GFP_3_IP)}{8/361,6/388,4/416,3/472,2/666,1/721,2/749,1/806,2/833,1/888,0/917,1/945,3/972,5/1000,6/1027,7/1054,6/1194,3/1223,4/1305,5/1390,6/1417,7/1445,6/1472,5/1499,4/1529,3/1566}
\trkH{IDD4_SRX4705003(IDD4-GFP_4_IP)}{665}{544/249,558/276,546/304,561/361,554/388,568/416,573/472,575/500,563/555,573/582,589/639,618/694,620/721,639/749,651/833,660/860,646/917,653/945,639/972,627/1000,613/1054,622/1084,620/1111,627/1139,630/1223,620/1250,630/1305,641/1333,627/1390,599/1472,584/1499,599/1529,608/1556,622/1566}
\trkH{LEC1_SRX3638219(developing seeds_LEC1_ChIP rep1)}{808}{701/249,687/304,701/361,687/416,701/444,729/555,744/610,760/666,744/721,760/749,774/806,789/917,803/1054,789/1084,774/1194,760/1223,774/1305,760/1417,744/1472,729/1529,744/1566}
\trkH{LEC1_SRX3638221(developing seeds_LEC1_ChIP rep2)}{950}{915/249,903/304,915/388,870/416,851/444,839/527,829/694,851/721,870/806,881/945,915/972,936/1084,946/1194,936/1223,924/1362,903/1566}
\trkH{LHY_SRX3182010(LHY_IP)}{1093}{1012/249,1038/333,1022/388,1005/472,1012/500,1005/527,1012/582,1022/639,1031/666,1038/694,1031/749,1038/806,1031/833,1022/860,1005/888,979/945,972/972,979/1000,988/1054,995/1084,988/1166,995/1223,979/1305,972/1333,979/1362,988/1390,995/1417,1005/1445,1048/1499,1081/1529,1088/1566}
\trkD{MED12_SRX7573312(MED12-FLAG_col_control_ChIPseq)}{7/249,5/276,6/361,7/388,5/444,6/472,7/555,8/610,7/721,6/749,3/806,4/833,2/860,1/917,2/945,3/972,4/1000,3/1027,2/1111,0/1166,3/1223,2/1305,5/1390,6/1417,7/1445,6/1472,5/1499,4/1556,3/1566}
\trkH{MED12_SRX7573320(MED12-FLAG_rep1_ChIPseq)}{1281}{1193/249,1205/276,1216/304,1224/333,1228/361,1224/388,1243/416,1216/472,1228/555,1243/610,1228/639,1252/666,1243/694,1252/721,1260/749,1252/778,1266/806,1260/917,1266/972,1276/1054,1247/1084,1243/1111,1224/1139,1212/1166,1224/1223,1216/1250,1212/1278,1216/1305,1228/1333,1224/1362,1176/1390,1169/1417,1164/1445,1159/1556,1164/1566}
\trkD{MED12_SRX7573322(MED12-FLAG_rep2_ChIPseq)}{3/276,1/304,0/388,1/416,2/444,3/500,4/527,3/555,2/610,3/639,4/721,5/778,6/833,8/1027,7/1084,6/1139,7/1194,6/1333,4/1390,3/1445,2/1566}
\trkH{MED25_SRX7445540(med25 ChIP-seq of arabidopsis)}{1468}{1444/276,1366/500,1406/833,1468/1166,1464/1250,1385/1362,1347/1566}
\trkH{MYC2_SRX5982476(myc2_MYC2:MYC2_FLAG_untreated)}{43}{-7/249,7/276,-2/333,-14/361,-10/388,-7/416,2/472,7/500,38/527,26/555,21/582,10/639,19/721,21/749,26/778,14/806,10/833,14/860,-2/917,-18/945,-26/972,-33/1027,-48/1084,-38/1166,-33/1223,-38/1278,-55/1305,-78/1333,-67/1362,-71/1390,-67/1417,-62/1445,-50/1472,-26/1499,-14/1566}
\trkD{MYC2_SRX6460101(MYC2_JA_2hr_ChIPseq_rep1)}{8/527,7/610,6/666,7/694,6/721,5/778,6/806,4/833,3/860,0/945,2/1000,0/1054,1/1084,2/1139,1/1194,2/1223,3/1278,1/1305,2/1362,4/1390,5/1417,7/1445,5/1472,6/1499,5/1529,4/1556,6/1566}
\trkD{MYC2_SRX6460102(MYC2_JA_2hr_ChIPseq_rep2)}{5/249,4/333,3/361,2/416,1/444,0/472,4/555,3/582,4/694,2/749,3/806,5/888,6/917,7/972,8/1084,7/1223,6/1250,7/1305,6/1333,5/1390,4/1417,5/1445,3/1472,4/1499,2/1529,4/1556,5/1566}
\trkH{MYC2_SRX6460103(MYC2_JA_2hr_ChIPseq_rep3)}{276}{195/304,204/333,195/361,159/388,190/444,183/472,190/500,209/555,226/582,231/610,245/639,252/666,216/694,235/721,226/749,216/778,231/806,245/833,216/860,226/888,235/917,261/945,252/1000,261/1027,271/1054,252/1111,231/1139,226/1166,216/1194,195/1223,226/1278,209/1305,173/1333,190/1362,169/1417,154/1445,169/1472,159/1499,154/1556,169/1566}
\trkD{MYC2_SRX6460104(MYC2_JA_2hr_ChIPseq_rep4)}{7/249,8/388,5/444,4/472,3/500,2/639,0/666,1/694,2/721,3/778,1/833,2/945,1/1000,2/1027,0/1054,3/1084,2/1194,3/1223,1/1250,2/1333,5/1362,6/1390,5/1417,6/1445,8/1529,7/1556,6/1566}
\trkD{MYC3_SRX6460105(MYC3_JA_2hr_ChIPseq_rep1)}{8/304,7/416,6/444,5/472,4/500,2/527,3/582,2/610,3/694,5/749,4/778,5/806,3/833,5/860,6/888,5/917,4/945,3/972,4/1000,5/1027,4/1054,5/1084,3/1111,2/1139,5/1223,6/1250,4/1278,3/1305,2/1333,0/1362,1/1417,0/1445,2/1472,1/1499,2/1566}
\trkD{MYC3_SRX6460106(MYC3_JA_2hr_ChIPseq_rep2)}{4/416,3/444,4/472,3/582,4/610,5/639,4/666,6/833,8/860,7/888,8/945,7/972,8/1139,5/1166,6/1194,5/1223,6/1250,5/1278,4/1305,3/1362,4/1390,3/1472,1/1556,0/1566}
\trkD{MYC3_SRX6460107(MYC3_JA_2hr_ChIPseq_rep3)}{5/249,4/333,6/361,5/388,6/416,7/472,8/555,7/666,6/749,5/778,6/806,7/833,6/888,7/972,6/1000,7/1027,6/1111,4/1166,3/1223,4/1250,3/1362,1/1390,2/1445,1/1472,0/1566}
\trkD{PHE1_SRX5676333(silique.gfp.wt_rep1)}{8/361,6/388,8/416,6/527,3/555,2/582,3/610,5/639,6/666,8/694,6/749,5/917,8/945,6/972,8/1000,6/1054,3/1166,5/1223,0/1250,2/1278,0/1305,2/1333,3/1499,6/1556,5/1566}
\trkH{PHE1_SRX5676335(silique.gfp.wt_rep2)}{644}{613/249,599/304,639/361,625/416,558/444,573/472,558/500,587/527,558/555,532/610,587/721,558/778,532/833,523/972,546/1027,558/1054,546/1084,587/1111,599/1139,639/1166,599/1223,573/1278,599/1333,639/1390,625/1445,599/1529,625/1556,613/1566}
\trkD{PIF7_SRX5454258(PIF7::PIF7-MYC (D108)_ZT12_27C)}{3/249,1/361,3/388,4/500,6/527,4/555,6/582,7/639,8/666,6/694,3/749,4/806,6/833,7/888,8/917,7/1084,8/1139,4/1194,3/1223,6/1250,8/1362,7/1445,4/1472,3/1529,1/1556,0/1566}
\trkD{PIF7_SRX5454260(PIF7::PIF7-MYC (D108)_ZT8_27C)}{3/249,1/276,5/304,4/333,5/361,3/416,1/444,3/500,1/582,0/610,1/666,0/694,1/721,3/749,5/778,4/806,5/888,4/917,6/945,8/1139,5/1223,6/1278,5/1333,6/1445,8/1499,6/1529,5/1566}
\trkD{PIF7_SRX5454262(PIF7::PIF7-MYC (D108)_ZT12_27C)}{5/249,4/304,7/388,5/444,6/500,5/666,3/778,4/806,6/833,7/860,6/888,5/917,4/945,5/1027,6/1054,5/1139,6/1223,8/1305,7/1333,5/1362,4/1390,1/1417,2/1445,3/1472,2/1499,1/1529,0/1566}
\trkH{RBR1_SRX3531272(RBR1_ChIP_rep1)}{922}{853/276,848/304,853/333,836/361,827/388,813/416,808/444,801/500,827/555,832/582,813/610,822/666,827/694,817/721,803/749,813/778,817/806,827/833,822/860,813/888,832/917,839/945,848/972,853/1000,860/1027,874/1054,865/1084,872/1139,893/1166,889/1194,874/1223,872/1250,879/1278,900/1333,910/1390,915/1417,917/1445,900/1472,896/1556,884/1566}
\trkD{RBR1_SRX3531273(RBR1_ChIP_rep2)}{3/249,4/276,5/304,6/333,4/555,6/749,7/833,6/860,7/888,8/1084,7/1139,6/1223,5/1362,4/1390,3/1417,2/1445,1/1529,0/1566}
\trkD{SE_ERX2858751(Arabidopsis Col-0 WT seedlings biorep1)}{6/249,5/304,3/333,2/361,0/472,2/527,0/610,2/639,0/749,2/806,3/860,5/888,6/917,8/1194,9/1566}
\trkH{SE_ERX2858752(Arabidopsis Col-0 WT seedlings biorep1)}{1155}{1112/249,1093/304,1071/333,1052/361,1033/472,1052/527,1033/610,1052/639,1033/749,1052/806,1071/860,1093/888,1112/917,1131/1084,1150/1194,1155/1566}
\trkH{SE_ERX2858753(Arabidopsis Col-0 WT seedlings biorep1)}{1297}{1254/276,1209/333,1243/388,1250/416,1214/527,1209/582,1176/639,1243/666,1209/833,1254/972,1288/1084,1259/1111,1226/1139,1259/1223,1293/1250,1271/1333,1238/1362,1205/1566}
\trkD{SHL_SRX3226098(SHL ChIPSeq-1)}{2/249,0/304,2/361,4/416,5/527,8/806,9/888,8/1445,9/1566}
\trkH{SHL_SRX3226099(SHL ChIPSeq-2)}{1485}{1480/304,1364/416,1480/860,1485/1566}
\def\vs{.3807}
\trkH{SMXL6_SRX7187013(s678 SMXL6HA_ChIPSeq_Rep1)}{66}{29/249,18/276,29/304,-13/333,-2/361,8/388,-2/444,-13/555,-23/610,-36/749,-23/778,-48/833,-69/860,-23/888,-48/917,-36/945,-23/972,-13/1000,-2/1027,8/1084,18/1111,-13/1166,18/1194,8/1278,18/1305,-2/1333,18/1362,29/1390,39/1417,29/1445,60/1472,50/1556,18/1566}
\trkH{SMXL6_SRX7187015(s678 SMXL6HA_ChIPSeq_Rep2)}{223}{179/249,200/276,192/304,218/333,213/361,192/388,179/416,147/444,113/500,108/527,89/610,100/639,89/666,95/694,89/749,95/806,103/833,113/860,100/917,113/945,95/972,126/1000,160/1027,126/1054,121/1084,139/1111,126/1139,121/1166,113/1250,121/1305,108/1417,113/1445,100/1472,113/1499,139/1529,121/1556,113/1566}
\trkD{SOB3_SRX5001348(SOB3-GFP ChIP replicate 1)}{8/249,7/304,8/416,7/472,8/555,7/806,8/833,6/860,5/888,4/917,3/945,4/1000,3/1027,1/1111,2/1223,0/1278,1/1333,2/1390,4/1417,5/1445,7/1529,6/1556,7/1566}
\trkH{SOB3_SRX5001349(SOB3-GFP ChIP replicate 2)}{431}{415/249,394/276,404/304,415/333,404/361,383/388,373/416,394/555,373/582,349/639,339/666,328/694,349/721,394/749,425/833,383/860,373/888,383/945,362/972,349/1000,339/1027,328/1054,297/1111,328/1139,349/1166,339/1194,318/1223,339/1278,318/1333,328/1362,339/1390,373/1472,339/1499,362/1529,373/1556,383/1566}
\trkH{SOG1_SRX3866936(IP_SOG1-3xFLAG_20min)}{588}{496/249,481/276,470/304,496/333,489/361,462/444,454/527,462/555,454/582,462/610,470/639,462/666,470/694,462/778,470/806,496/833,470/860,462/917,481/1000,496/1027,504/1054,489/1111,496/1223,504/1250,523/1278,533/1305,515/1333,523/1390,549/1417,559/1445,567/1472,575/1529,583/1566}
\trkD{SOG1_SRX3866937(IP_SOG1-3xFLAG_1h)}{5/249,4/276,5/304,8/333,3/416,5/444,3/500,7/527,4/555,5/610,4/639,3/666,1/694,4/778,1/806,3/833,1/860,0/888,5/972,3/1000,4/1084,7/1139,4/1166,5/1194,7/1223,3/1333,5/1362,7/1417,5/1472,7/1499,5/1529,8/1566}
\trkH{SPL7-SRX250135 (SRX250135: FLAG-SPL7 ChIP-seq)}{796}{760/361,749/416,770/500,780/582,770/749,780/917,791/1054,760/1084,749/1139,760/1278,672/1499,662/1566}
\trkD{SPT6L_SRX5169086(SPT6L-GFP IP rep1)}{1/249,0/276,1/304,2/333,4/361,2/388,4/416,3/472,4/527,5/555,7/582,8/639,7/666,8/694,7/721,8/833,7/917,8/945,7/1027,6/1054,7/1111,6/1166,7/1194,8/1250,6/1278,5/1333,4/1390,5/1445,4/1472,5/1529,6/1556,4/1566}
\trkD{SPT6L_SRX5169087(SPT6L-GFP IP rep2)}{0/333,1/361,3/472,5/500,6/527,7/555,8/582,7/666,6/694,5/721,6/749,7/778,8/917,7/945,4/972,5/1000,4/1054,3/1166,4/1194,5/1250,6/1278,7/1333,6/1362,5/1390,6/1417,5/1445,4/1472,5/1499,6/1529,5/1556,4/1566}
\trkD{STZ_SRX6460108(STZ_AIR_ChIPseq_rep1)}{5/276,4/304,3/333,1/444,0/582,1/610,3/639,2/666,3/694,1/721,2/749,3/833,4/888,6/917,7/945,6/1000,7/1027,8/1166,7/1223,8/1278,7/1362,6/1390,5/1417,6/1472,5/1499,4/1529,3/1556,0/1566}
\trkH{STZ_SRX6460109(STZ_AIR_ChIPseq_rep2)}{1103}{1048/249,1061/276,1074/304,1098/333,1079/361,1074/416,1061/444,1074/472,1087/500,1093/527,1079/555,1074/582,1030/610,1037/666,1043/694,1037/749,1030/778,1006/806,993/888,998/917,988/972,998/1027,1011/1054,998/1084,988/1111,1006/1194,993/1250,998/1278,980/1305,974/1333,969/1362,980/1390,988/1417,974/1445,988/1472,1019/1499,1024/1529,998/1556,988/1566}
\trkD{STZ_SRX6460110(STZ_AIR_ChIPseq_rep3)}{8/333,6/388,5/416,3/527,4/582,3/666,5/749,6/888,7/945,8/1027,7/1278,5/1305,4/1333,1/1417,0/1529,1/1566}
\trkD{STZ_SRX6460111(STZ_JA_2hr_ChIPseq_rep1)}{8/276,7/304,5/333,6/444,4/472,5/500,3/555,2/582,1/666,2/694,3/721,4/749,6/778,7/806,5/860,6/888,5/917,4/972,3/1027,4/1054,3/1111,6/1139,7/1223,5/1278,4/1305,0/1362,1/1390,3/1417,5/1445,4/1556,6/1566}
\trkD{TCP4_SRX4168241(mTCP4_ChIP)}{3/249,4/276,5/304,4/333,3/361,0/416,1/444,0/500,2/527,1/555,2/610,3/721,2/749,3/806,2/833,1/860,2/888,1/917,4/945,5/972,2/1000,3/1027,4/1084,5/1111,3/1139,2/1278,3/1390,4/1445,6/1529,8/1566}
\trkH{TFL1_ERX2826885(gTFL1-1xVenus_biorep1)}{1410}{1348/276,1334/304,1348/333,1358/361,1371/444,1358/500,1371/555,1358/639,1395/694,1405/721,1395/749,1371/778,1382/806,1395/833,1405/972,1382/1000,1395/1084,1371/1111,1348/1139,1334/1194,1311/1250,1276/1278,1287/1305,1311/1333,1297/1390,1276/1445,1287/1529,1297/1556,1311/1566}
\trkH{TFL1_ERX2826887(gTFL1-1xVenus_biorep3)}{1568}{1434/249,1452/304,1442/361,1452/416,1473/444,1452/472,1442/500,1452/582,1463/610,1494/639,1505/721,1523/749,1544/860,1563/888,1544/917,1534/945,1523/972,1505/1000,1523/1027,1534/1084,1523/1139,1544/1194,1505/1223,1494/1278,1484/1362,1494/1390,1473/1417,1463/1445,1473/1472,1463/1499,1442/1529,1463/1556,1473/1566}
\end{tikzpicture}
\end{document}
